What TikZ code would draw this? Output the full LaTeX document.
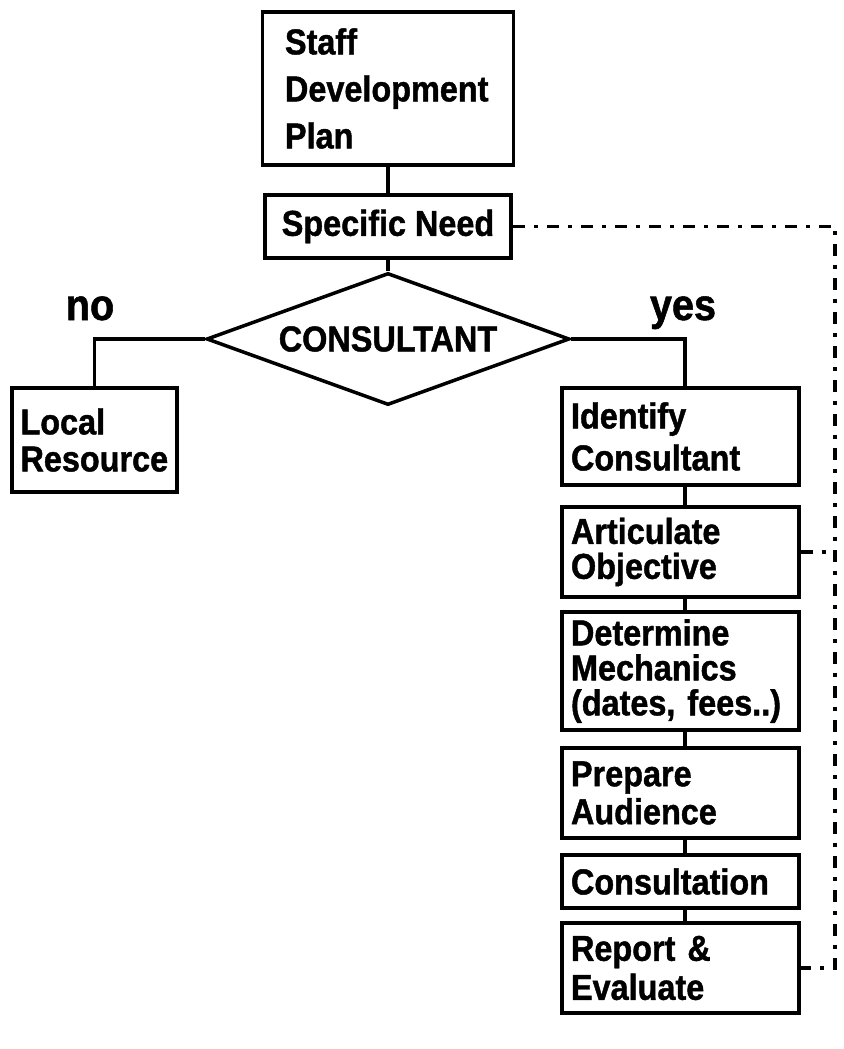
\documentclass[tikz,border=0pt]{standalone}
\usepackage{fontspec}
\setmainfont{Liberation Sans}[FakeStretch=0.9, BoldFeatures={FakeBold=1.2}]
\usetikzlibrary{shapes.geometric}
\begin{document}
\begin{tikzpicture}[x=1pt,y=-1pt,
  box/.style={draw, line width=3.5pt, inner sep=0pt, align=left},
  lead/.style={font=\bfseries\fontsize{36}{#1}\selectfont},
  rbox/.style={box, minimum width=237pt, text width=219pt},
  link/.style={line width=3.5pt},
  fb/.style={line width=3.5pt, dash pattern=on 12pt off 9pt on 4pt off 9pt},
  lbl/.style={font=\bfseries\fontsize{44}{44}\selectfont, anchor=base, inner sep=0pt}]
\useasboundingbox (0,0) rectangle (843,1049);
% top boxes
\node[box, lead=47, minimum width=251pt, minimum height=153pt, text width=206pt] (staff) at (388,88.5) {Staff\\Development\\Plan};
\node[box, lead=40, align=center, minimum width=246pt, minimum height=63pt] (need) at (388,226.5) {Specific Need};
% decision
\node[draw, diamond, aspect=2.8, line width=3.5pt, minimum width=363pt, minimum height=132pt, inner sep=0pt, lead=40] (dia) at (388,339) {CONSULTANT};
\node[lbl] (no) at (90,320) {no};
\node[lbl] (yes) at (683,320) {yes};
% left branch
\node[box, lead=37, minimum width=165pt, minimum height=104pt, text width=148pt] (local) at (94.5,440) {Local\\Resource};
% right branch
\node[rbox, lead=42, minimum height=97pt] (identify) at (680.5,436.5) {Identify\\Consultant};
\node[rbox, lead=35, minimum height=90pt] (articulate) at (680.5,552) {Articulate\\Objective};
\node[rbox, lead=35, minimum height=118pt] (determine) at (680.5,671) {Determine\\Mechanics\\(dates, fees..)};
\node[rbox, lead=38, minimum height=90pt] (prepare) at (680.5,793) {Prepare\\Audience};
\node[rbox, lead=40, minimum height=53pt] (consult) at (680.5,881.5) {Consultation};
\node[rbox, lead=39, minimum height=90pt] (report) at (680.5,968) {Report \&\\Evaluate};
% connectors
\coordinate (spine) at (685,0);
\coordinate (fbx) at (835,0);
\draw[link] (staff.south) -- (need.north);
\draw[link] (need.south) -- (dia.north);
\draw[link] (dia.west) -| (local.north);
\draw[link] (dia.east) -- (dia.east -| spine) -- (identify.north -| spine);
\draw[link] (identify.south -| spine) -- (articulate.north -| spine);
\draw[link] (articulate.south -| spine) -- (determine.north -| spine);
\draw[link] (determine.south -| spine) -- (prepare.north -| spine);
\draw[link] (prepare.south -| spine) -- (consult.north -| spine);
\draw[link] (consult.south -| spine) -- (report.north -| spine);
% feedback dash-dot line
\draw[fb] (need.east) -- (need.east -| fbx) -- (report.east -| fbx) -- (report.east);
\draw[fb] (articulate.east) -- (articulate.east -| fbx);
\end{tikzpicture}
\end{document}
